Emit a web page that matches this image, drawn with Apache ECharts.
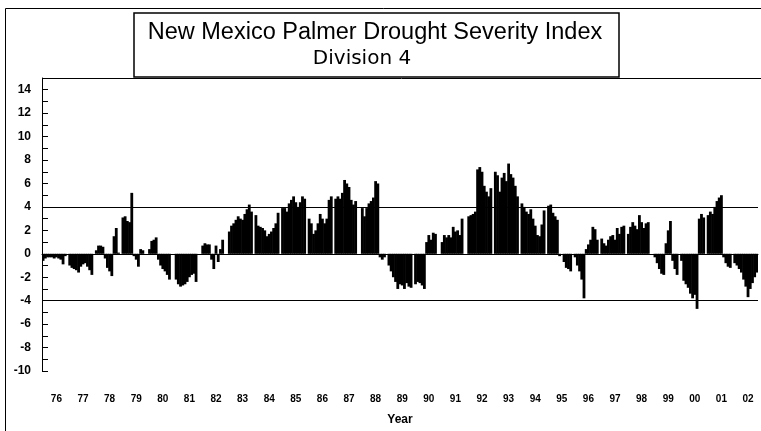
<!DOCTYPE html>
<html>
<head>
<meta charset="UTF-8">
<title>New Mexico PDSI Division 4</title>
<script src="https://cdn.jsdelivr.net/npm/echarts@6/dist/echarts.min.js"></script>
<style>
  html, body { margin: 0; padding: 0; background: #fff; }
  #chart { width: 761px; height: 431px; }
</style>
</head>
<body>
<div id="chart"></div>
<script>
// monthly PDSI values, Jan..Dec of each year
var v1976 = [-0.6, -0.4, -0.3, -0.3, -0.3, -0.4, -0.3, -0.4, -0.5, -0.9, -0.2, 0.0];
var v1977 = [-1.0, -1.2, -1.3, -1.4, -1.6, -1.1, -0.9, -0.8, -1.1, -1.4, -1.8, 0.0];
var v1978 = [0.3, 0.7, 0.7, 0.6, -0.4, -1.2, -1.5, -1.9, 1.5, 2.2, 0.1, 0.0];
var v1979 = [3.1, 3.2, 2.8, 2.7, 5.2, -0.2, -0.5, -1.1, 0.4, 0.3, 0.0, 0.0];
var v1980 = [0.4, 1.1, 1.2, 1.4, -0.5, -1.0, -1.3, -1.5, -1.8, -2.2, 0.0, 0.0];
var v1981 = [-2.2, -2.6, -2.8, -2.7, -2.6, -2.4, -2.0, -1.8, -1.7, -2.4, 0.0, 0.0];
var v1982 = [0.7, 0.9, 0.8, 0.8, -0.5, -1.3, 0.7, -0.7, 0.4, 1.2, 0.0, 0.0];
var v1983 = [1.9, 2.4, 2.6, 2.9, 3.2, 3.0, 2.9, 3.4, 3.8, 4.2, 3.6, 0.0];
var v1984 = [3.3, 2.4, 2.3, 2.2, 2.0, 1.5, 1.7, 1.9, 2.2, 2.6, 3.5, 0.0];
var v1985 = [3.9, 3.9, 3.6, 4.3, 4.6, 4.9, 4.4, 4.0, 4.4, 4.9, 4.7, 0.0];
var v1986 = [3.0, 2.6, 1.7, 2.0, 2.6, 3.4, 3.0, 2.6, 3.0, 4.6, 4.9, 0.0];
var v1987 = [4.7, 4.9, 4.7, 5.2, 6.3, 6.0, 5.7, 4.6, 4.2, 4.5, 0.0, 0.0];
var v1988 = [3.9, 3.2, 3.9, 4.3, 4.5, 4.8, 6.2, 6.0, -0.3, -0.5, -0.3, 0.0];
var v1989 = [-1.0, -1.5, -2.0, -2.4, -3.0, -2.6, -2.7, -3.0, -2.5, -2.8, -2.9, 0.0];
var v1990 = [-2.6, -2.4, -2.5, -2.7, -3.0, 1.0, 1.6, 1.2, 1.8, 1.7, 0.0, 0.0];
var v1991 = [1.0, 1.6, 1.4, 1.6, 1.4, 2.3, 1.9, 2.0, 1.6, 3.0, 0.0, 0.0];
var v1992 = [3.2, 3.3, 3.4, 3.6, 7.2, 7.4, 7.0, 5.8, 5.3, 4.9, 5.6, 0.0];
var v1993 = [7.0, 6.7, 5.3, 6.5, 6.9, 6.2, 7.7, 6.8, 6.5, 5.8, 4.9, 0.0];
var v1994 = [4.3, 4.0, 3.6, 3.4, 3.8, 3.0, 2.4, 1.6, 1.5, 2.5, 3.7, 0.0];
var v1995 = [4.1, 4.2, 3.5, 3.2, 2.9, -0.2, 0.0, -0.7, -1.2, -1.3, -1.5, 0.0];
var v1996 = [-0.3, -1.0, -1.5, -2.2, -3.8, 0.4, 0.8, 1.2, 2.3, 2.1, 1.2, 0.0];
var v1997 = [1.3, 0.9, 0.7, 1.2, 1.5, 1.6, 1.2, 2.2, 1.7, 2.3, 2.4, 0.0];
var v1998 = [1.7, 2.3, 2.7, 2.4, 2.1, 3.3, 2.7, 2.2, 2.6, 2.7, 0.0, 0.0];
var v1999 = [-0.3, -0.8, -1.3, -1.7, -1.8, 0.9, 2.0, 2.8, -0.6, -1.3, -1.8, 0.0];
var v2000 = [-0.6, -2.3, -2.6, -2.9, -3.4, -3.8, -3.5, -4.7, 3.0, 3.4, 3.1, 0.0];
var v2001 = [3.3, 3.6, 3.4, 4.0, 4.5, 4.8, 5.0, -0.3, -0.8, -1.1, -1.2, 0.0];
var v2002 = [-0.8, -1.0, -1.3, -1.6, -2.2, -2.8, -3.7, -3.0, -2.5, -2.0, -1.6];

var years = [1976, 1977, 1978, 1979, 1980, 1981, 1982, 1983, 1984, 1985, 1986, 1987, 1988, 1989,
             1990, 1991, 1992, 1993, 1994, 1995, 1996, 1997, 1998, 1999, 2000, 2001, 2002];
var yearValues = [v1976, v1977, v1978, v1979, v1980, v1981, v1982, v1983, v1984, v1985, v1986, v1987, v1988, v1989,
                  v1990, v1991, v1992, v1993, v1994, v1995, v1996, v1997, v1998, v1999, v2000, v2001, v2002];
var thresholds = [4, 0, -4];

// flatten into one month axis
var months = [];
var values = [];
for (var i = 0; i < years.length; i++) {
    for (var m = 0; m < yearValues[i].length; m++) {
        months.push(years[i] + '-' + (m + 1));
        values.push(yearValues[i][m]);
    }
}

var lab = 'Liberation Sans, Arial, sans-serif';
var myChart = echarts.init(document.getElementById('chart'));
var option = {
    animation: false,
    backgroundColor: '#fff',
    graphic: [
        // outer frame (left and top)
        { type: 'line', shape: { x1: 5.5, y1: 8.5, x2: 5.5, y2: 431 }, style: { stroke: '#000', lineWidth: 1 } },
        { type: 'line', shape: { x1: 5.5, y1: 8.5, x2: 761, y2: 8.5 }, style: { stroke: '#000', lineWidth: 1 } },
        // plot top edge
        { type: 'line', shape: { x1: 42, y1: 78.5, x2: 761, y2: 78.5 }, style: { stroke: '#000', lineWidth: 1 } },
        // title box
        { type: 'rect', shape: { x: 134, y: 13, width: 485, height: 64 }, style: { fill: '#fff', stroke: '#000', lineWidth: 1.5 } },
        { type: 'text', x: 375, y: 33, style: { text: 'New Mexico Palmer Drought Severity Index', font: '23.5px ' + lab, fill: '#000', textAlign: 'center', textVerticalAlign: 'middle' } },
        { type: 'text', x: 362, y: 59, style: { text: 'Division 4', font: '20px "DejaVu Sans", ' + lab, fill: '#000', textAlign: 'center', textVerticalAlign: 'middle' } }
    ],
    grid: { left: 42, right: 3, top: 78, bottom: 51 },
    xAxis: {
        type: 'category',
        data: months,
        name: 'Year',
        nameLocation: 'middle',
        nameGap: 43,
        nameTextStyle: { fontFamily: lab, fontWeight: 'bold', fontSize: 12, color: '#000' },
        axisLine: { lineStyle: { color: '#000', width: 1 } },
        axisTick: {
            inside: true, length: 6,
            interval: function (idx) { return idx % 12 === 6; },
            lineStyle: { color: '#000' }
        },
        axisLabel: {
            interval: function (idx) { return idx % 12 === 6; },
            formatter: function (v) { return v.slice(2, 4); },
            margin: 23,
            fontFamily: lab, fontWeight: 'bold', fontSize: 10, color: '#000'
        },
        splitLine: { show: false }
    },
    yAxis: {
        type: 'value',
        min: -10, max: 15, interval: 1,
        axisLine: { show: true, lineStyle: { color: '#000', width: 1 } },
        axisTick: { show: true, inside: true, length: 6, lineStyle: { color: '#000' } },
        axisLabel: {
            formatter: function (v) { return (v % 2 === 0 && v < 15) ? String(v) : ''; },
            margin: 11,
            fontFamily: lab, fontWeight: 'bold', fontSize: 12, color: '#000'
        },
        splitLine: { show: false }
    },
    series: [{
        type: 'bar',
        data: values,
        barWidth: 2.8,
        itemStyle: { color: '#000' },
        silent: true,
        markLine: {
            silent: true,
            symbol: 'none',
            label: { show: false },
            lineStyle: { color: '#000', width: 1, type: 'solid' },
            data: thresholds.map(function (t) { return { yAxis: t }; })
        }
    }]
};
myChart.setOption(option);
</script>
</body>
</html>
